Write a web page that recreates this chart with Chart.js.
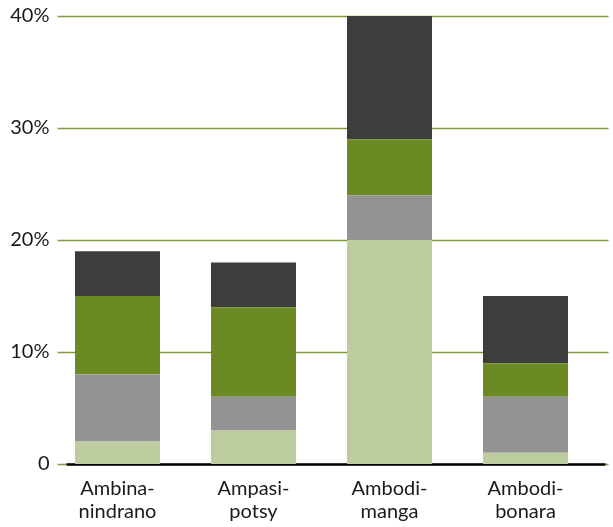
<!DOCTYPE html>
<html>
<head>
<meta charset="utf-8">
<script src="https://cdn.jsdelivr.net/npm/chart.js@4/dist/chart.umd.min.js"></script>
<style>
  html, body { margin: 0; padding: 0; background: #fff; }
  #wrap { width: 613px; height: 527px; position: relative; }
</style>
</head>
<body>
<div id="wrap"><canvas id="c" width="613" height="527"></canvas></div>
<script>
// Share of area by category (percent), stacked bottom to top
const categories = [['Ambina-', 'nindrano'], ['Ampasi-', 'potsy'], ['Ambodi-', 'manga'], ['Ambodi-', 'bonara']];
const seriesLight = [2, 3, 20, 1];
const seriesGray  = [6, 3, 4, 5];
const seriesGreen = [7, 8, 5, 3];
const seriesDark  = [4, 4, 11, 6];
const yTicks = [0, 10, 20, 30, 40];

const GRID = '#7d9c37';
const FONT = 'Lato, "Open Sans", sans-serif';

// Horizontal rules and the black base line, drawn under the bars
const rules = {
  id: 'rules',
  beforeDatasetsDraw(chart) {
    const { ctx, chartArea: a, scales: { y } } = chart;
    ctx.save();
    ctx.strokeStyle = GRID;
    ctx.lineWidth = 1.5;
    yTicks.forEach(v => {
      const py = Math.round(y.getPixelForValue(v)) + 0.5;
      ctx.beginPath();
      ctx.moveTo(a.left + 8, py);
      ctx.lineTo(a.right + 15, py);
      ctx.stroke();
    });
    const p0 = y.getPixelForValue(0);
    ctx.strokeStyle = '#000';
    ctx.lineWidth = 2.5;
    ctx.beginPath();
    ctx.moveTo(a.left + 17, p0 + 0.5);
    ctx.lineTo(a.right + 12, p0 + 0.5);
    ctx.stroke();
    ctx.restore();
  }
};

const mk = (label, data, color) => ({
  label, data, backgroundColor: color, borderWidth: 0,
  barPercentage: 0.625, categoryPercentage: 1.0
});

new Chart(document.getElementById('c'), {
  type: 'bar',
  data: {
    labels: categories,
    datasets: [
      mk('light', seriesLight, '#bdcc9f'),
      mk('gray', seriesGray, '#939393'),
      mk('green', seriesGreen, '#6b8a24'),
      mk('dark', seriesDark, '#3d3d3d')
    ]
  },
  options: {
    responsive: false,
    animation: false,
    layout: { padding: { top: 16, right: 19.5, left: 0, bottom: 0 } },
    plugins: { legend: { display: false }, tooltip: { enabled: false } },
    scales: {
      x: {
        stacked: true,
        grid: { display: false, drawTicks: false },
        border: { display: false },
        ticks: {
          color: '#1a1a1a',
          padding: 13,
          font: { family: FONT, size: 20, lineHeight: 1.15 },
          maxRotation: 0, autoSkip: false
        },
        afterFit(s) { s.height = 63; }
      },
      y: {
        stacked: true,
        min: 0, max: 40,
        afterBuildTicks(s) { s.ticks = yTicks.map(v => ({ value: v })); },
        grid: { display: false, drawTicks: false },
        border: { display: false },
        ticks: {
          color: '#1a1a1a',
          padding: 0,
          font: { family: FONT, size: 20 },
          callback: v => v === 0 ? '0' : v + '%'
        },
        afterFit(s) { s.width = 49.5; }
      }
    }
  },
  plugins: [rules]
});
</script>
</body>
</html>
